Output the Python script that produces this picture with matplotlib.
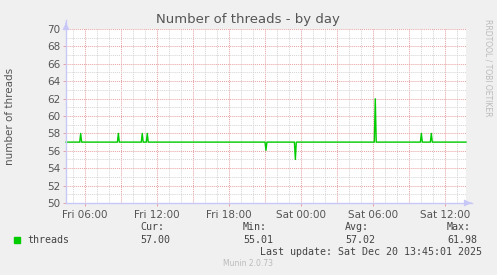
import matplotlib
matplotlib.use("Agg")
import matplotlib.pyplot as plt
from matplotlib.ticker import MultipleLocator, FixedLocator

# ---- data (hours since Fri 00:00) ----
times = [4.42, 5.56, 5.64, 5.72, 8.70, 8.78, 8.86, 10.69, 10.77, 10.85,
         11.11, 11.19, 11.27, 21.00, 21.08, 21.16, 23.45, 23.53, 23.61,
         30.11, 30.19, 30.27, 33.95, 34.03, 34.11, 34.78, 34.86, 34.94, 37.75]
threads = [57, 57, 58, 57, 57, 58, 57, 57, 58, 57,
           57, 58, 57, 57, 56.05, 57, 57, 55.01, 57,
           57, 61.98, 57, 57, 58, 57, 57, 58, 57, 57]
tick_pos = [6, 12, 18, 24, 30, 36]
tick_labels = ["Fri 06:00", "Fri 12:00", "Fri 18:00", "Sat 00:00", "Sat 06:00", "Sat 12:00"]
x_start, x_end = 4.4167, 37.75
y_min, y_max = 50, 70

W, H = 497, 275
fig = plt.figure(figsize=(W / 100, H / 100), dpi=100)
fig.patch.set_facecolor("#F0F0F0")

L, R, T, B = 66, 466, 29, 203
ax = fig.add_axes([L / W, (H - B) / H, (R - L) / W, (B - T) / H])
ax.set_facecolor("white")
ax.set_xlim(x_start, x_end)
ax.set_ylim(y_min, y_max)
for s in ax.spines.values():
    s.set_visible(False)

# grid
dot = (0, (1, 1))
for h in range(5, 38):
    col = "#E8A0A0" if h % 3 == 0 else "#D4D4D4"
    ax.axvline(h, color=col, lw=0.7, ls=dot, zorder=1)
for v in range(51, 71):
    col = "#E8A0A0" if v % 2 == 0 else "#D4D4D4"
    ax.axhline(v, color=col, lw=0.7, ls=dot, zorder=1)

ax.plot(times, threads, color="#00CC00", lw=1.0, zorder=3, clip_on=False)

ax.xaxis.set_major_locator(FixedLocator(tick_pos))
ax.set_xticklabels(tick_labels)
ax.yaxis.set_major_locator(MultipleLocator(2))
ax.tick_params(axis="both", colors="#E8A0A0", length=2, width=0.7,
               labelcolor="#555555", labelsize=7.5, pad=2)
ax.tick_params(axis="x", pad=3)

# axis lines with arrows
axis_col = "#C8C8F8"
fig.add_artist(plt.Line2D([L / W, L / W], [(H - B) / H, (H - 20) / H],
                          color=axis_col, lw=1.0, transform=fig.transFigure))
fig.add_artist(plt.Line2D([L / W, (R + 6) / W], [(H - B) / H, (H - B) / H],
                          color=axis_col, lw=1.0, transform=fig.transFigure))
ax.annotate("", xy=(L / W, (H - 20) / H), xytext=(L / W, (H - 26) / H),
            xycoords="figure fraction",
            arrowprops=dict(arrowstyle="-|>,head_width=0.2,head_length=0.4",
                            color=axis_col, lw=0.8))
ax.annotate("", xy=((R + 8) / W, (H - B) / H), xytext=((R + 2) / W, (H - B) / H),
            xycoords="figure fraction",
            arrowprops=dict(arrowstyle="-|>,head_width=0.2,head_length=0.4",
                            color=axis_col, lw=0.8))

# texts
fig.text(248 / W, (H - 19) / H, "Number of threads - by day", ha="center", va="center",
         fontsize=9.5, color="#555555")
fig.text(10 / W, (H - 116) / H, "number of threads", rotation=90, ha="center", va="center",
         fontsize=7.5, color="#555555")
fig.text(488 / W, (H - 68) / H, "RRDTOOL / TOBI OETIKER", rotation=270, ha="center",
         va="center", fontsize=5.5, color="#BBBBBB")

mono = "DejaVu Sans Mono"
fs = 7.2
tc = "#444444"
fig.add_artist(plt.Rectangle((14 / W, (H - 243) / H), 6 / W, 6 / H, color="#00CC00",
                             transform=fig.transFigure))
fig.text(27 / W, (H - 240) / H, "threads", fontsize=fs, family=mono, color=tc, va="center")
cols_x = [140, 243, 345, 447]
heads = ["Cur:", "Min:", "Avg:", "Max:"]
vals = ["57.00", "55.01", "57.02", "61.98"]
for x, hd, vl in zip(cols_x, heads, vals):
    fig.text(x / W, (H - 227) / H, hd, fontsize=fs, family=mono, color=tc, va="center")
    fig.text(x / W, (H - 240) / H, vl, fontsize=fs, family=mono, color=tc, va="center")
fig.text(482 / W, (H - 252) / H, "Last update: Sat Dec 20 13:45:01 2025", fontsize=fs,
         family=mono, color=tc, va="center", ha="right")
fig.text(248 / W, (H - 264) / H, "Munin 2.0.73", fontsize=5.5, color="#BBBBBB",
         ha="center", va="center")

fig.savefig("out.png", dpi=100, facecolor=fig.get_facecolor())
